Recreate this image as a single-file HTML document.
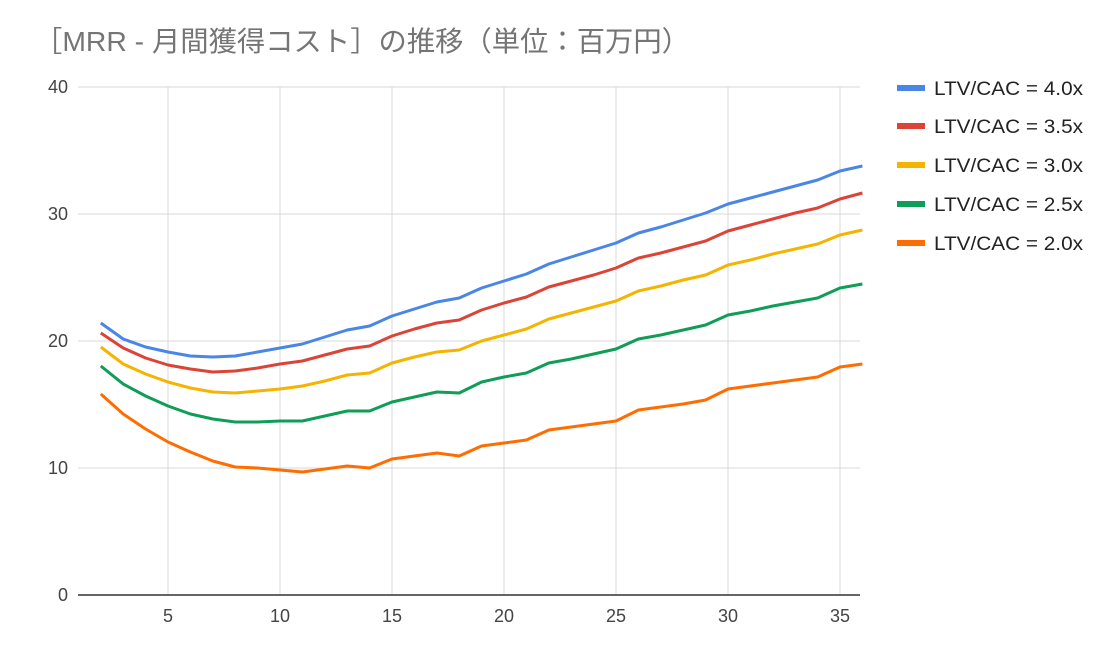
<!DOCTYPE html>
<html><head><meta charset="utf-8"><style>
body{margin:0;background:#fff;width:1114px;height:658px;overflow:hidden}
svg text{font-family:"Liberation Sans","Noto Sans CJK JP",sans-serif}
</style></head><body>
<svg id="s" width="1114" height="658" xmlns="http://www.w3.org/2000/svg">
<text x="34" y="51" font-size="28" fill="#757575" textLength="656" lengthAdjust="spacingAndGlyphs">［MRR - 月間獲得コスト］の推移（単位：百万円）</text>
<g id="grid" stroke="#d9d9d9" stroke-width="1"></g>
<line x1="78" y1="595" x2="860" y2="595" stroke="#333" stroke-width="1.5"/>
<g id="lab" font-size="18" fill="#444"></g>
<g id="ser" fill="none" stroke-width="3" stroke-linejoin="round"></g>
<g id="leg" font-size="19" fill="#222"></g>
</svg>
<script>
var g=document.getElementById('grid'),lab=document.getElementById('lab'),ser=document.getElementById('ser'),leg=document.getElementById('leg');
var NS='http://www.w3.org/2000/svg';
function el(p,t,a,txt){var e=document.createElementNS(NS,t);for(var k in a)e.setAttribute(k,a[k]);if(txt)e.textContent=txt;p.appendChild(e);}
[0,10,20,30,40].forEach(function(v){var y=595-v*12.7;if(v)el(g,'line',{x1:78,x2:860,y1:y,y2:y});el(lab,'text',{x:68,y:y+6,'text-anchor':'end'},''+v);});
[5,10,15,20,25,30,35].forEach(function(v){var x=168+(v-5)*22.4;el(g,'line',{x1:x,x2:x,y1:87,y2:595});el(lab,'text',{x:x,y:622,'text-anchor':'middle'},''+v);});
var D=[
['#4a86e8','LTV/CAC = 4.0x',[323,339,347,352,356,357,356,352,348,344,337,330,326,316,309,302,298,288,281,274,264,257,250,243,233,227,220,213,204,198,192,186,180,171,166]],
['#db4437','LTV/CAC = 3.5x',[333,348,358,365,369,372,371,368,364,361,355,349,346,336,329,323,320,310,303,297,287,281,275,268,258,253,247,241,231,225,219,213,208,199,193]],
['#f4b400','LTV/CAC = 3.0x',[347,364,374,382,388,392,393,391,389,386,381,375,373,363,357,352,350,341,335,329,319,313,307,301,291,286,280,275,265,260,254,249,244,235,230]],
['#0f9d58','LTV/CAC = 2.5x',[366,384,396,406,414,419,422,422,421,421,416,411,411,402,397,392,393,382,377,373,363,359,354,349,339,335,330,325,315,311,306,302,298,288,284]],
['#ff6d00','LTV/CAC = 2.0x',[394,414,429,442,452,461,467,468,470,472,469,466,468,459,456,453,456,446,443,440,430,427,424,421,410,407,404,400,389,386,383,380,377,367,364]]];
var ly=[88,126,165,204,243];
D.forEach(function(d,i){var pts=d[2].map(function(y,j){return (100.8+j*22.4).toFixed(1)+','+y;}).join(' ');
el(ser,'polyline',{points:pts,stroke:d[0]});
el(leg,'line',{x1:897,x2:925,y1:ly[i],y2:ly[i],stroke:d[0],'stroke-width':6});
el(leg,'text',{x:934,y:ly[i]+7,textLength:149,lengthAdjust:'spacingAndGlyphs'},d[1]);});
</script>
</body></html>
